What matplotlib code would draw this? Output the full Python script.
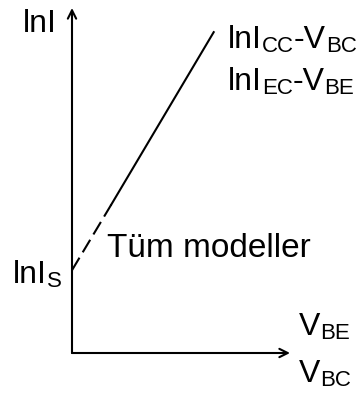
import matplotlib
matplotlib.use("Agg")
from matplotlib import pyplot as plt
from matplotlib import transforms as mtransforms

plt.rcParams["font.family"] = "Liberation Sans"

# diode characteristic in normalised axis units (origin at axis corner)
v_low = [0.0, 0.18]
lni_low = [0.24, 0.43]
v_high = [0.18, 0.65]
lni_high = [0.43, 0.93]

fig = plt.figure(figsize=(3.61, 4.01), dpi=100)
ax = fig.add_axes([72 / 361, 48 / 401, 218 / 361, 345 / 401])
ax.set_xlim(0, 1)
ax.set_ylim(0, 1)
ax.axis("off")
renderer = fig.canvas.get_renderer()

arrow = dict(arrowstyle="->,head_length=0.6,head_width=0.3", lw=1.5,
             color="black", shrinkA=0, shrinkB=0)
ax.annotate("", xy=(1, 0), xytext=(0, 0), arrowprops=arrow)
ax.annotate("", xy=(0, 1), xytext=(0, 0), arrowprops=arrow)

ax.plot(v_low, lni_low, color="black", lw=1.5, ls=(0, (7, 3)),
        solid_capstyle="butt", clip_on=False)
ax.plot(v_high, lni_high, color="black", lw=1.5, clip_on=False)


def label(x, y, runs, size=23, sub_size=16, drop=3.0):
    """Draw text runs side by side; runs are (text, is_subscript)."""
    dx = 0.0
    for s, sub in runs:
        tr = mtransforms.offset_copy(ax.transData, fig, x=dx,
                                     y=-drop if sub else 0, units="points")
        t = ax.text(x, y, s, transform=tr, fontsize=sub_size if sub else size,
                    ha="left", va="baseline", clip_on=False)
        dx += t.get_window_extent(renderer).width * 72 / fig.dpi


label(-0.225, 0.93, [("lnI", False)])
label(0.715, 0.885, [("lnI", False), ("CC", True), ("-V", False), ("BC", True)])
label(0.715, 0.762, [("lnI", False), ("EC", True), ("-V", False), ("BE", True)])
label(0.16, 0.278, [("Tüm modeller", False)], size=24)
label(-0.27, 0.203, [("lnI", False), ("S", True)])
label(1.04, 0.052, [("V", False), ("BE", True)])
label(1.04, -0.084, [("V", False), ("BC", True)])

fig.savefig("out.png", dpi=100)
